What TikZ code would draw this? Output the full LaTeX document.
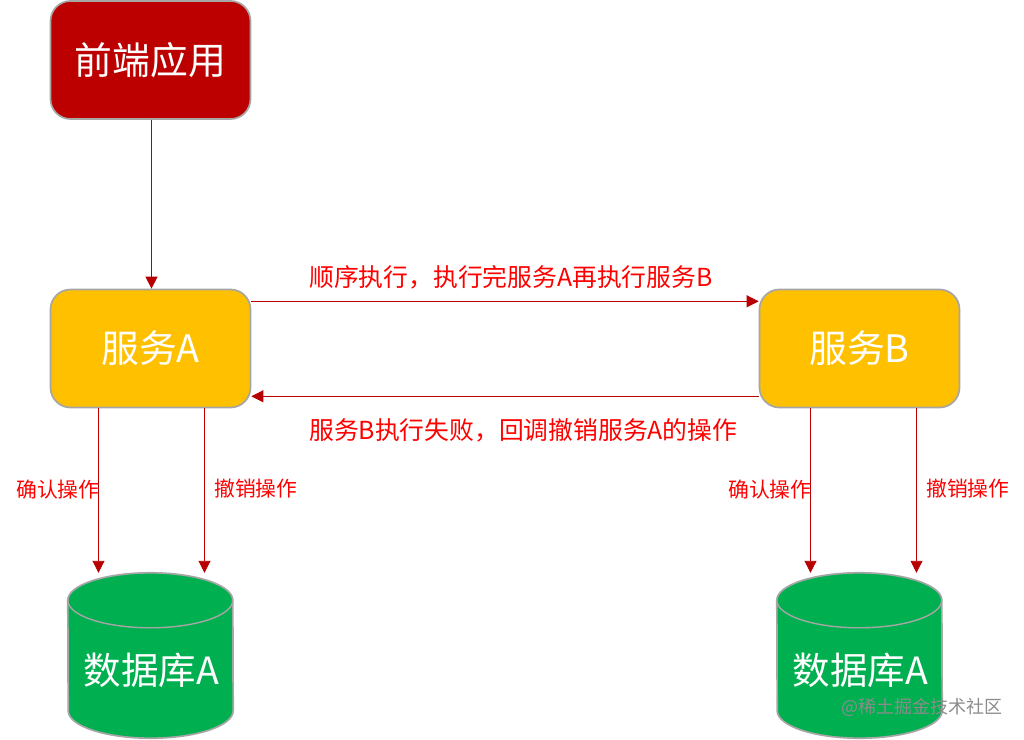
\documentclass[tikz,border=0pt]{standalone}
\usepackage{fontspec}
\usetikzlibrary{arrows.meta}
\setmainfont{Noto Sans CJK SC}
\tikzset{
  x=1pt,y=1pt,
  boxnode/.style={draw=boxline,line width=1.7pt,rounded corners=20pt,minimum width=200pt,minimum height=118pt,inner sep=0pt,text=white,font=\fontsize{37.8}{38}\selectfont},
  dbframe/.style={minimum width=165pt,minimum height=165pt,inner sep=0pt},
  dbbody/.style={draw=boxline,line width=1.7pt,fill=dbgreen},
  dbtext/.style={text=white,inner sep=0pt,font=\fontsize{37.5}{38}\selectfont},
  flow/.style={draw=flowred,line width=0.9pt,-{Triangle[length=12pt,width=12pt]}},
  redlabel/.style={text=labelred,inner sep=0pt,font=\fontsize{24.8}{26}\selectfont},
  smalllabel/.style={text=labelred,inner sep=0pt,font=\fontsize{20.8}{22}\selectfont},
  watermark/.style={text=markgray,inner sep=0pt,font=\fontsize{18}{20}\selectfont},
}
\definecolor{boxline}{HTML}{A6A6A6}
\definecolor{frontred}{HTML}{BC0000}
\definecolor{svcyellow}{HTML}{FFC000}
\definecolor{dbgreen}{HTML}{00B050}
\definecolor{flowred}{HTML}{B80000}
\definecolor{labelred}{HTML}{FF0000}
\definecolor{markgray}{HTML}{8C8C8C}
\begin{document}
\begin{tikzpicture}
\useasboundingbox (0,0) rectangle (1024,739);
\fill[white] (0,0) rectangle (1024,739);
\node[boxnode,fill=frontred] (front) at (150.5,679) {前端应用};
\node[boxnode,fill=svcyellow] (svca) at (150.5,390.5) {服务A};
\node[boxnode,fill=svcyellow] (svcb) at (859.5,390.5) {服务B};
\node[dbframe] (dba) at (150.5,83.5) {};
\node[dbframe] (dbb) at (859.5,83.5) {};
\foreach \d in {dba,dbb}{
  \draw[dbbody] ([yshift=-27.5pt]\d.north west) arc[start angle=180,end angle=0,x radius=82.5pt,y radius=27.5pt]
    -- ([yshift=27.5pt]\d.south east) arc[start angle=0,end angle=-180,x radius=82.5pt,y radius=27.5pt] -- cycle;
  \draw[boxline,line width=1.4pt] ([yshift=-27.5pt]\d.north west) arc[start angle=180,end angle=360,x radius=82.5pt,y radius=27.5pt];
}
\node[dbtext] (dbat) at (151.5,69) {数据库A};
\node[dbtext] (dbbt) at (860.5,69) {数据库A};
\draw[flow] ([xshift=1pt]front.south) -- ([xshift=1pt]svca.north);
\draw[flow] ([yshift=47.2pt]svca.east) -- ([yshift=47.2pt]svca.east -| svcb.west);
\draw[flow] ([yshift=-47.8pt]svcb.west) -- ([yshift=-47.8pt]svcb.west -| svca.east);
\draw[flow] ([xshift=-52pt]svca.south) -- ([xshift=-52pt]svca.south |- dba.north);
\draw[flow] ([xshift=54pt]svca.south) -- ([xshift=54pt]svca.south |- dba.north);
\draw[flow] ([xshift=-49pt]svcb.south) -- ([xshift=-49pt]svcb.south |- dbb.north);
\draw[flow] ([xshift=57pt]svcb.south) -- ([xshift=57pt]svcb.south |- dbb.north);
\node[redlabel,anchor=west] (l1) at (309,462) {顺序执行，执行完服务A再执行服务B};
\node[redlabel,anchor=west] (l2) at (309,309) {服务B执行失败，回调撤销服务A的操作};
\node[smalllabel,anchor=west] (l3) at (16,249) {确认操作};
\node[smalllabel,anchor=west] (l4) at (214,250) {撤销操作};
\node[smalllabel,anchor=west] (l5) at (728,249) {确认操作};
\node[smalllabel,anchor=west] (l6) at (926,250) {撤销操作};
\node[watermark,anchor=west] (wm) at (841,32) {@稀土掘金技术社区};
\end{tikzpicture}
\end{document}
